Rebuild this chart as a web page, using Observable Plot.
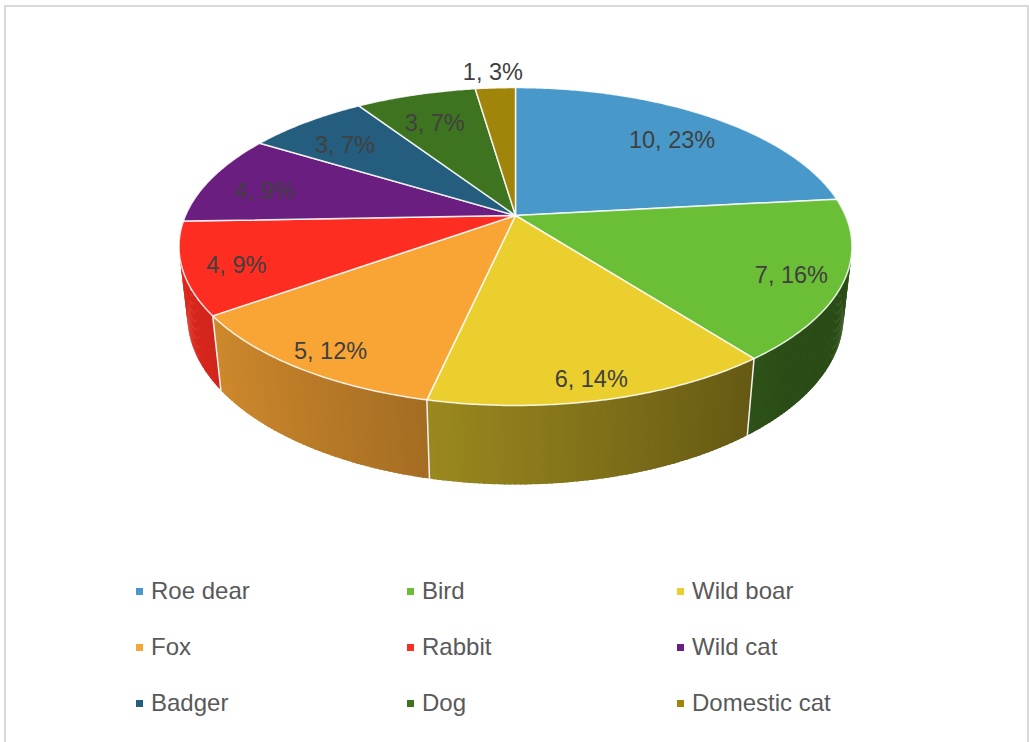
<!DOCTYPE html>
<html><head><meta charset="utf-8">
<script src="https://cdn.jsdelivr.net/npm/d3@7"></script>
<script src="https://cdn.jsdelivr.net/npm/@observablehq/plot@0.6"></script>
<style>
html,body{margin:0;padding:0;overflow:hidden;background:#fff;font-family:"Liberation Sans",Arial,sans-serif;}
#frame{position:absolute;left:4px;top:5px;width:1025px;height:800px;border:2px solid #d9d9d9;box-sizing:border-box;}
#chart{position:absolute;left:0;top:0;}
#legend{position:absolute;left:136px;top:563px;display:grid;grid-template-columns:271px 270px 271px;grid-auto-rows:56px;}
.item{display:flex;align-items:center;font-size:24px;color:#595959;line-height:1;white-space:nowrap;}
.sw{width:7px;height:7px;margin-right:8px;flex:none;}
</style></head><body>
<div id="frame"></div><div id="chart"></div><div id="legend"></div>
<script>
// ---- data ----
const animals = ["Roe dear","Bird","Wild boar","Fox","Rabbit","Wild cat","Badger","Dog","Domestic cat"];
const counts = [10,7,6,5,4,4,3,3,1];
const percents = [23,16,14,12,9,9,7,7,3];
const colors = ["#4899c9","#6abf37","#ebcf2e","#f9a535","#fd2d21","#6a1e80","#245d7d","#3e7320","#a1840a"];

// ---- 3D projection (perspective tilt) ----
const W = 1029, H = 560, CX = 515, CY = 215, R = 330;
const phi = 27.6 * Math.PI / 180, cphi = Math.cos(phi), sphi = Math.sin(phi), Dp = 4.54, thick = 0.24;
function proj(theta, r, z) {
  const u = r * Math.sin(theta), w = -r * Math.cos(theta);
  const dep = w * cphi + z * sphi;
  const s = Dp / (Dp - dep);
  return [s * u, s * (w * sphi - z * cphi)];
}
const pie = d3.pie().sort(null).value(d => d)(counts);
const deg = Math.PI / 180;

// top faces
const topPts = [];
pie.forEach((p, i) => {
  const id = "t" + i;
  topPts.push({id, x: 0, y: 0, fill: colors[i]});
  const n = Math.max(2, Math.ceil((p.endAngle - p.startAngle) / (0.5 * deg)));
  for (let k = 0; k <= n; k++) {
    const t = p.startAngle + (p.endAngle - p.startAngle) * k / n;
    const [x, y] = proj(t, 1, 0);
    topPts.push({id, x, y, fill: colors[i]});
  }
});

// side walls (front half), shaded strips (overlapping slightly to hide seams)
const strips = [];
pie.forEach((p, i) => {
  const a0 = Math.max(p.startAngle, Math.PI / 2), a1 = Math.min(p.endAngle, 3 * Math.PI / 2);
  if (a1 <= a0) return;
  const n = Math.ceil((a1 - a0) / (0.75 * deg));
  for (let k = 0; k < n; k++) {
    const t0 = a0 + (a1 - a0) * k / n;
    const t1 = Math.min(a1, a0 + (a1 - a0) * (k + 1) / n + 0.4 * deg);
    const tm = (t0 + t1) / 2, u = Math.sin(tm), w = -Math.cos(tm);
    const f = Math.max(0.4, Math.min(0.88, 0.6 - 0.28 * u));
    const fill = d3.interpolateRgb("#000000", colors[i])(f);
    const id = "s" + i + "_" + k;
    const pts = [proj(t0, 1, 0), proj(t1, 1, 0), proj(t1, 1, -thick), proj(t0, 1, -thick)]
      .map(([x, y]) => ({id, x, y, fill}));
    strips.push({w, pts});
  }
});
strips.sort((a, b) => a.w - b.w);
const sidePts = strips.flatMap(s => s.pts);

// side boundary lines
const edgePts = [];
pie.forEach((p, i) => {
  const t = p.endAngle;
  if (t > Math.PI / 2 && t < 3 * Math.PI / 2) {
    const [x0, y0] = proj(t, 1, 0), [x1, y1] = proj(t, 1, -thick);
    edgePts.push({id: "e" + i, x: x0, y: y0}, {id: "e" + i, x: x1, y: y1});
  }
});

// labels
const labels = pie.map((p, i) => {
  const mid = (p.startAngle + p.endAngle) / 2;
  const small = (p.endAngle - p.startAngle) < 0.05 * 2 * Math.PI;
  const r = small ? 1.15 : 0.83 - 0.05 * Math.cos(mid);
  const [x, y] = proj(mid, r, 0);
  return {x, y, small, text: `${counts[i]}, ${percents[i]}%`};
});

const chart = Plot.plot({
  width: W, height: H, margin: 0,
  x: {domain: [-CX / R, (W - CX) / R], range: [0, W], axis: null},
  y: {domain: [-CY / R, (H - CY) / R], range: [0, H], axis: null},
  color: {type: "identity"},
  style: {background: "transparent", overflow: "visible"},
  marks: [
    Plot.line(sidePts, {x: "x", y: "y", z: "id", fill: "fill", curve: "linear-closed"}),
    Plot.line(edgePts, {x: "x", y: "y", z: "id", stroke: "#f2f2f2", strokeWidth: 1.5}),
    Plot.line(topPts, {x: "x", y: "y", z: "id", fill: "fill", stroke: "#ffffff", strokeWidth: 1.5, strokeOpacity: 0.85, strokeLinejoin: "round", curve: "linear-closed"}),
    Plot.text(labels.filter(d => !d.small), {x: "x", y: "y", text: "text", dy: 6, fontSize: 23.5, fill: "#404040", fontFamily: "Liberation Sans, Arial, sans-serif"}),
    Plot.text(labels.filter(d => d.small), {x: "x", y: "y", text: "text", fontSize: 23.5, fill: "#404040", fontFamily: "Liberation Sans, Arial, sans-serif"})
  ]
});
document.getElementById("chart").appendChild(chart);

// legend
const legend = document.getElementById("legend");
animals.forEach((a, i) => {
  const item = document.createElement("div");
  item.className = "item";
  const sw = document.createElement("span");
  sw.className = "sw"; sw.style.background = colors[i];
  const tx = document.createElement("span");
  tx.textContent = a;
  item.appendChild(sw); item.appendChild(tx);
  legend.appendChild(item);
});
</script>
</body></html>
